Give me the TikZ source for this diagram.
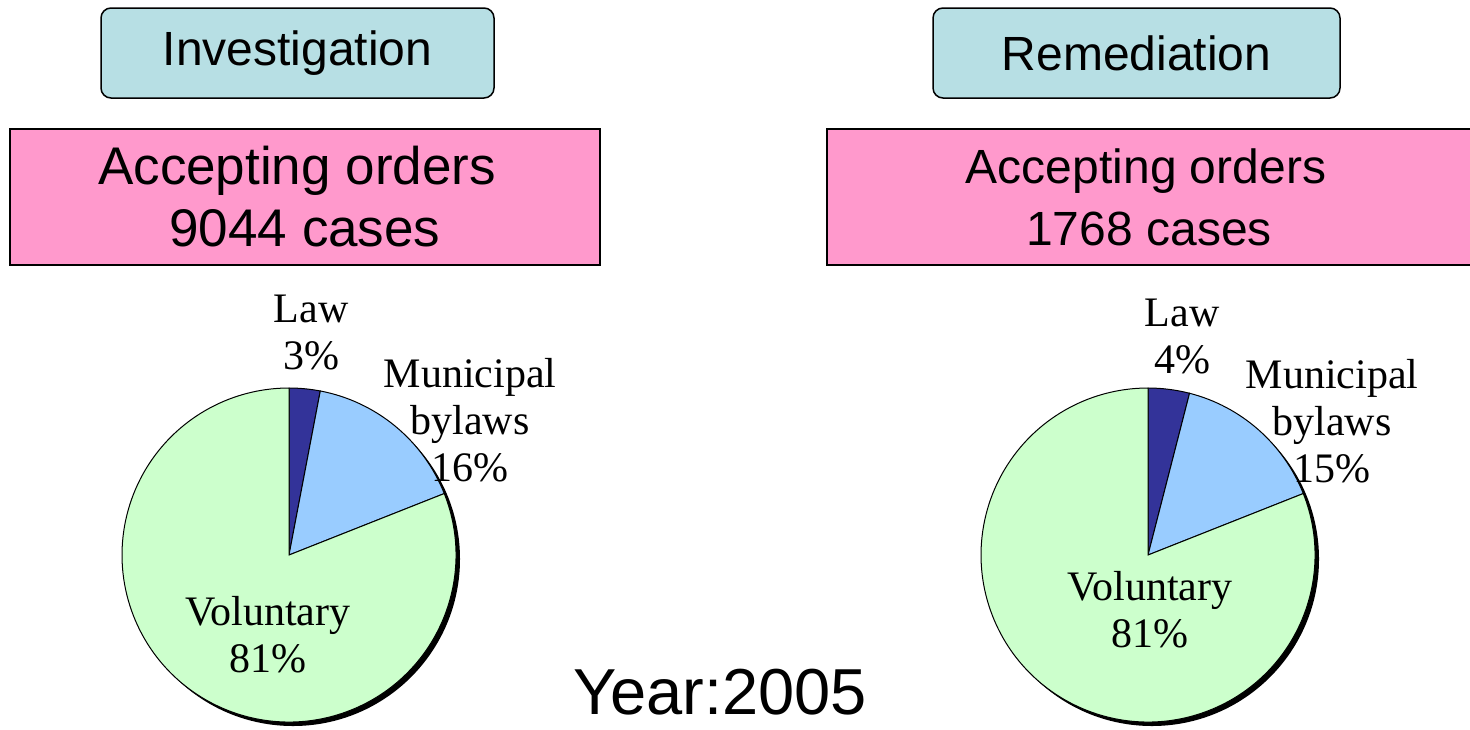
\documentclass[tikz,border=0pt]{standalone}
\usepackage{fontspec}
\setmainfont{Liberation Sans}
\newfontfamily\pielabelfont{Liberation Serif}
\definecolor{headblue}{RGB}{183,223,228}
\definecolor{orderpink}{RGB}{255,153,204}
\definecolor{lawblue}{RGB}{51,51,153}
\definecolor{bylawblue}{RGB}{153,204,255}
\definecolor{volgreen}{RGB}{204,255,204}
\tikzset{
	headbox/.style={draw,fill=headblue,rounded corners=5pt,line width=0.75pt,
		minimum height=45pt,font=\fontsize{24}{28}\selectfont},
	orderbox/.style={draw,fill=orderpink,line width=0.6pt,minimum height=68pt,
		align=center},
	pielabel/.style={align=center,font=\pielabelfont\fontsize{21}{23.5}\selectfont}
}
\begin{document}
\begin{tikzpicture}[x=0.5pt,y=-0.5pt]
	\useasboundingbox (0,0) rectangle (1470,729);
	\def\r{83.5pt}

	% header boxes
	\node[headbox,minimum width=196.5pt] (inv) at (297.5,53) {Investigation};
	\node[headbox,minimum width=203.5pt] (rem) at (1136.5,53) {Remediation};
	\node[orderbox,minimum width=295pt,font=\fontsize{26.5}{31}\selectfont]
		(linv) at (305,197) {\hspace*{-8pt}Accepting orders\\ 9044 cases};
	\node[orderbox,minimum width=322pt,font=\fontsize{24}{31}\selectfont]
		(lrem) at (1149,197) {\hspace*{-3pt}Accepting orders\\ 1768 cases};

	% pies
	\coordinate (lpie) at (289,555);
	\coordinate (rpie) at (1148,555);
	\fill ([shift={(2pt,-2pt)}]lpie) circle[radius=\r];
	\fill ([shift={(2pt,-2pt)}]rpie) circle[radius=\r];
	\foreach \a/\b/\c in {90/79.2/lawblue,79.2/21.6/bylawblue,21.6/-270/volgreen}
		\filldraw[fill=\c,line width=0.5pt] (lpie) -- ++(\a:\r)
			arc[start angle=\a,end angle=\b,radius=\r] -- cycle;
	\foreach \a/\b/\c in {90/75.6/lawblue,75.6/21.6/bylawblue,21.6/-270/volgreen}
		\filldraw[fill=\c,line width=0.5pt] (rpie) -- ++(\a:\r)
			arc[start angle=\a,end angle=\b,radius=\r] -- cycle;

	\node[pielabel] (llaw) at (311,333) {Law\\ 3\%};
	\node[pielabel] (lmun) at (470,420) {Municipal\\ bylaws\\ 16\%};
	\node[pielabel] (lvol) at (268,635) {Voluntary\\ 81\%};
	\node[pielabel] (rlaw) at (1182,337) {Law\\ 4\%};
	\node[pielabel] (rmun) at (1332,421) {Municipal\\ bylaws\\ 15\%};
	\node[pielabel] (rvol) at (1150,610) {Voluntary\\ 81\%};

	\node[inner sep=0pt,font=\fontsize{32.5}{36}\selectfont] (year) at (720,692) {Year:2005};
\end{tikzpicture}
\end{document}
